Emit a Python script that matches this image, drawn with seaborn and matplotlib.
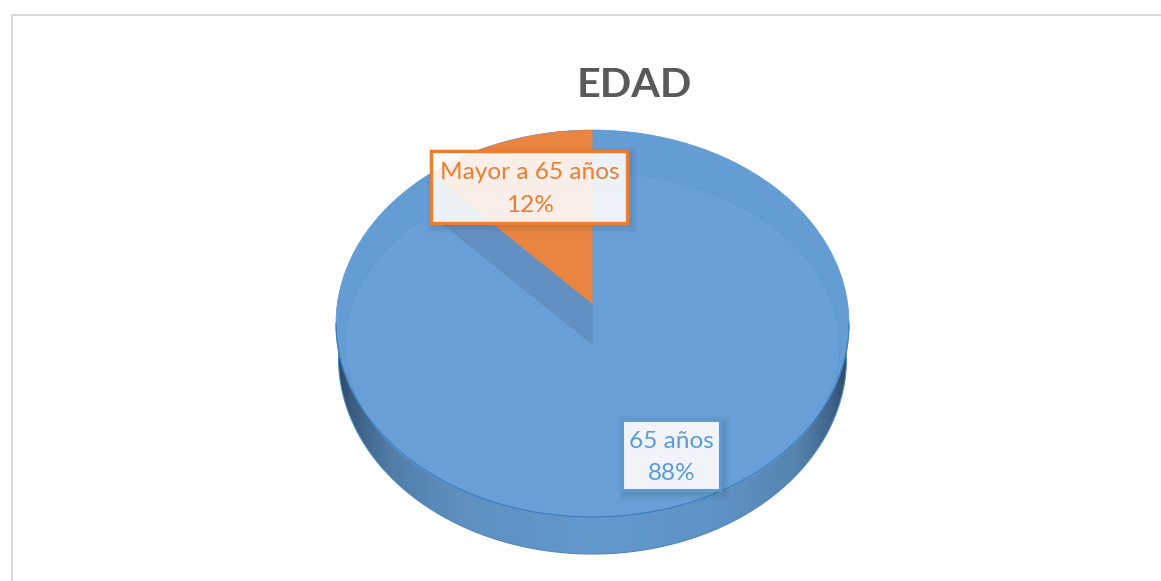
import numpy as np
import matplotlib
matplotlib.use("Agg")
import matplotlib.pyplot as plt
import seaborn as sns
from matplotlib.colors import LinearSegmentedColormap
from matplotlib.patches import Ellipse, PathPatch, Polygon, Rectangle
from matplotlib.path import Path

title = "EDAD"
categories = ["65 años", "Mayor a 65 años"]
shares = [88, 12]
colors = ["#5b9bd5", "#ed7d31"]

sns.set_theme(style="white")
plt.rcParams["font.family"] = ["Lato", "DejaVu Sans"]

W, H = 1161, 581
CX, CY, RX, RY = 592.5, 323.5, 256.5, 193.5

fig = plt.figure(figsize=(W / 100, H / 100), dpi=100, facecolor="white")
ax = fig.add_axes([0, 0, 1, 1])


def px(x, y):
    return (x - CX) / RX, (CY - y) / RY


# Side wall: the lower rim is a slightly smaller ellipse (perspective)
t = np.linspace(np.pi, 2 * np.pi, 200)
wall_rx, wall_ry, wall_cy = 254 / RX, 196 / RY, px(0, 358)[1]
rim_low = np.column_stack([wall_rx * np.cos(t), wall_ry * np.sin(t) + wall_cy])
wall_path = Path(np.vstack([rim_low, [[1, 0], [-1, 0], rim_low[0]]]))
wall_cmap = LinearSegmentedColormap.from_list(
    "wall",
    [(0.0, "#2b4766"), (0.03, "#3a5c80"), (0.1, "#507ca6"), (0.24, "#5f90c0"),
     (0.5, "#6399cd"), (0.76, "#5f92c4"), (0.9, "#5583ad"), (0.97, "#3f6388"), (1.0, "#2b4766")],
)
im = ax.imshow(np.linspace(0, 1, 512).reshape(1, -1), extent=(-1, 1, -1.3, 0),
               cmap=wall_cmap, aspect="auto", zorder=1)
im.set_clip_path(PathPatch(wall_path, transform=ax.transData))
ax.plot(rim_low[:, 0], rim_low[:, 1], color="#4a86c5", lw=0.8, zorder=1.5)

# Top face underlay and the pie
ax.add_patch(Ellipse((0, 0), 2, 2, facecolor="#639dd4", edgecolor="#5a96cf", lw=0.5, zorder=2))
wedges, _ = ax.pie(shares, colors=["#639dd4", "#e98540"], startangle=90, counterclock=False,
                   radius=1, wedgeprops={"linewidth": 0, "zorder": 3})
wedges[0].set_visible(False)
ax.plot(np.cos(t), np.sin(t), color="#3f7fc0", lw=0.9, zorder=3.1)

# Raised bevel of the top face
ax.add_patch(Ellipse(px(592.5, 344.5), 495 / RX, 345 / RY, facecolor="#679fd6",
                     edgecolor="#5e98cf", lw=0.5, zorder=2.5))

# Orange slice sits on the bevel with its apex lifted, and drops a wall on the blue
apex = np.array(px(592.5, 304))
angle = np.deg2rad(360 * shares[1] / sum(shares))
direction = np.array([-np.sin(angle), np.cos(angle)])
b = apex @ direction
reach = -b + np.sqrt(b * b - (apex @ apex - 1))
rim = apex + reach * direction
drop = 41 / RY
ax.add_patch(Polygon([apex, rim, rim - [0, drop], apex - [0, drop]],
                     facecolor="#6390c2", edgecolor="none", zorder=2.8))
wedges[1].set_center(tuple(apex))
wedges[1].set_radius(1.3)
wedges[1].set_zorder(3)


def label_box(left, top, right, bottom, color, cx, y1, y2, size, lines, lw, alpha):
    x0, y0 = px(left, bottom)
    x1, y1b = px(right, top)
    for grow in [7, 5, 3, 1.5]:
        gx, gy = grow / RX, grow / RY
        ax.add_patch(Rectangle((x0 - gx + 3 / RX, y0 - gy - 3 / RY), x1 - x0 + 2 * gx, y1b - y0 + 2 * gy,
                               facecolor="#303030", edgecolor="none", alpha=0.03, zorder=4))
    ax.add_patch(Rectangle((x0, y0), x1 - x0, y1b - y0, facecolor=(1, 1, 1, alpha),
                           edgecolor=color, lw=lw, zorder=5))
    for yy, s in zip((y1, y2), lines):
        ax.text(*px(cx, yy), s, color=color, fontsize=size, ha="center", va="center", zorder=6)


label_box(431, 150.5, 627, 222.5, colors[1], 529.5, 172.5, 205.5, 17.6,
          [categories[1], f"{shares[1]}%"], 2.4, 0.89)
label_box(621.5, 419.5, 720, 490, colors[0], 671.5, 442, 474, 17.6,
          [categories[0], f"{shares[0]}%"], 2.2, 0.91)

ax.text(*px(634.5, 85.5), title, color="#595959", fontsize=29.7, fontweight="bold",
        ha="center", va="center", zorder=6)

# Frame, open on the right and at the bottom
left, top = px(11.5, 14.5)
x_end, y_end = px(W + 5, H + 5)
ax.plot([x_end, left, left], [top, top, y_end], color="#d9d9d9", lw=1.5, zorder=0.5)

ax.set_xlim(px(0, 0)[0], px(W, 0)[0])
ax.set_ylim(px(0, H)[1], px(0, 0)[1])
ax.set_aspect("auto")
ax.axis("off")

# Keep the lifted slice inside the top face (pie turns clipping off by default)
wedges[1].set_clip_on(True)
wedges[1].set_clip_path(Path.unit_circle(), ax.transData)

fig.savefig("out.png", dpi=100, facecolor="white")
